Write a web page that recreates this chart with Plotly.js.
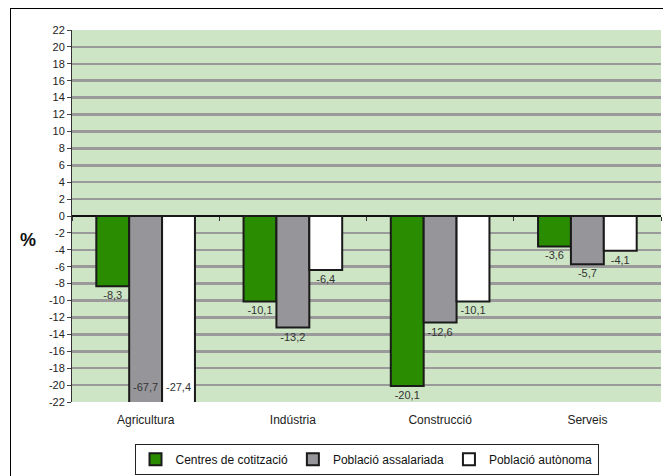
<!DOCTYPE html>
<html><head><meta charset="utf-8">
<script src="https://cdn.plot.ly/plotly-3.0.1.min.js"></script>
<style>
html,body{margin:0;padding:0;background:#fff;overflow:hidden}
#chart{width:663px;height:476px;position:relative}
#frame{position:absolute;left:10px;top:8px;width:700px;height:520px;border:1px solid #000;pointer-events:none;z-index:10}
</style></head>
<body>
<div id="frame"></div>
<div id="chart"></div>
<script>
const categories = ['Agricultura', 'Indústria', 'Construcció', 'Serveis'];
const seriesNames = ['Centres de cotització', 'Població assalariada', 'Població autònoma'];
const centres = [-8.3, -10.1, -20.1, -3.6];
const assalariada = [-67.7, -13.2, -12.6, -5.7];
const autonoma = [-27.4, -6.4, -10.1, -4.1];
const yTicks = [22,20,18,16,14,12,10,8,6,4,2,0,-2,-4,-6,-8,-10,-12,-14,-16,-18,-20,-22];

const yMin = -22, yMax = 22;
const colors = ['#2a8c00', '#96969a', '#ffffff'];
const allSeries = [centres, assalariada, autonoma];
const gap = 0.33;

const fmt = v => v.toFixed(1).replace('.', ',');

const traces = allSeries.map((vals, i) => ({
  type: 'bar',
  name: seriesNames[i],
  x: categories,
  y: vals,
  offsetgroup: 'g' + i,
  marker: {color: colors[i], line: {color: '#1a1a1a', width: 2}},
  text: vals.map(v => v < yMin ? '' : fmt(v)),
  textposition: 'outside',
  textangle: 0,
  textfont: {family: 'Liberation Sans, Arial, sans-serif', size: 11, color: '#333'},
  constraintext: 'none',
  cliponaxis: true,
  hoverinfo: 'none'
}));

// labels of bars that run past the bottom of the axis: drawn inside, at the clipped end
allSeries.forEach((vals, i) => {
  traces.push({
    type: 'scatter', mode: 'markers+text', showlegend: false, hoverinfo: 'none',
    x: categories,
    y: vals.map(v => v < yMin ? yMin : null),
    text: vals.map(v => v < yMin ? fmt(v) : ''),
    textposition: 'top center',
    marker: {size: 12, color: 'rgba(0,0,0,0)'},
    offsetgroup: 'g' + i,
    textfont: {family: 'Liberation Sans, Arial, sans-serif', size: 11, color: '#333'},
    cliponaxis: false
  });
});

// invisible trace on secondary axis to draw boundary ticks on the zero line
traces.push({type: 'bar', x: categories, y: categories.map(() => 0), xaxis: 'x2', showlegend: false, hoverinfo: 'none', marker: {color: 'rgba(0,0,0,0)'}});

const layout = {
  width: 663, height: 476,
  margin: {l: 72, r: 2, t: 30, b: 74, autoexpand: false},
  paper_bgcolor: '#ffffff',
  plot_bgcolor: '#cde5c4',
  font: {family: 'Liberation Sans, Arial, sans-serif', size: 11, color: '#222'},
  barmode: 'group',
  bargap: gap,
  bargroupgap: 0,
  scattermode: 'group',
  scattergap: gap,
  showlegend: true,
  legend: {
    orientation: 'h', x: 0.5, xanchor: 'center', y: -0.112, yanchor: 'top',
    bordercolor: '#222', borderwidth: 1, bgcolor: '#fff',
    font: {size: 12, color: '#111'}, traceorder: 'normal',
    itemwidth: 30, tracegroupgap: 0
  },
  xaxis: {
    type: 'category', showgrid: false, zeroline: false, showline: false,
    ticks: 'outside', ticklen: 7, tickcolor: 'rgba(0,0,0,0)',
    tickfont: {size: 12, color: '#222'}, fixedrange: true
  },
  xaxis2: {
    type: 'category', overlaying: 'x', anchor: 'free', position: 0.5,
    showgrid: false, zeroline: false, showline: false, showticklabels: false,
    ticks: 'outside', tickson: 'boundaries', ticklen: 4, tickwidth: 1, tickcolor: '#333',
    matches: 'x'
  },
  yaxis: {
    range: [yMin, yMax], tickmode: 'array', tickvals: yTicks,
    ticktext: yTicks.map(String),
    showgrid: true, gridcolor: '#9a9a9a', gridwidth: 2.5,
    zeroline: true, zerolinecolor: '#111', zerolinewidth: 2,
    showline: true, linecolor: '#333', linewidth: 1,
    ticks: 'outside', ticklen: 4, tickcolor: '#444', tickwidth: 1,
    tickfont: {size: 11, color: '#222'}, fixedrange: true
  },
  annotations: [{
    text: '<b>%</b>', xref: 'paper', yref: 'paper', x: -0.058, y: 0.435,
    xanchor: 'right', yanchor: 'middle', showarrow: false,
    font: {size: 18, color: '#111'}
  }]
};

Plotly.newPlot('chart', traces, layout, {displayModeBar: false, staticPlot: true});
</script>
</body></html>
